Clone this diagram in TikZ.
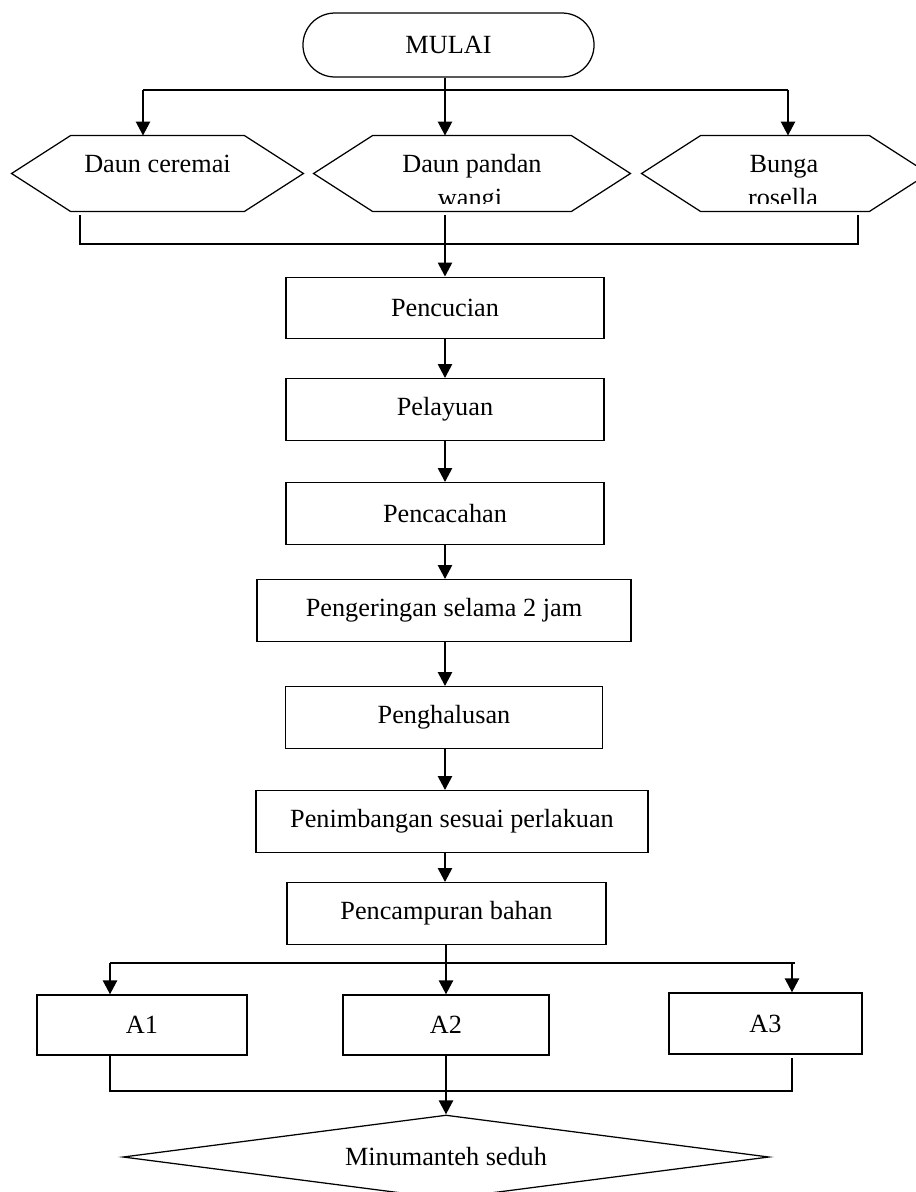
\documentclass[tikz,border=0pt]{standalone}
\usepackage{fontspec}
\setmainfont{Liberation Serif}
\usetikzlibrary{shapes.geometric, arrows.meta, positioning, calc}

\begin{document}
\begin{tikzpicture}[x=0.48pt, y=-0.48pt, font=\fontsize{12.6}{15}\selectfont,
  box/.style={draw,line width=0.6pt,minimum height=29.6pt,inner sep=0pt},
  hexa/.style={minimum height=36pt,inner sep=0pt},
  hexline/.style={draw,line width=0.6pt},
  line/.style={line width=1.2pt},
  arrow/.style={line,-{Triangle[width=6.7pt,length=6.7pt]}}]
  \useasboundingbox (0,0) rectangle (915,1192);
  % mulai
  \node[box,rounded corners=15.3pt,minimum width=139.7pt,minimum height=30.7pt] (mulai) at (448.5,45) {MULAI};
  % bahan
  \node[hexa,minimum width=139.7pt] (cer) at (157.5,173.5) {};
  \node[hexa,minimum width=151.7pt] (pan) at (472,173.5) {};
  \node[hexa,minimum width=137.3pt] (ros) at (785,173.5) {};
  \foreach \h in {cer,pan,ros}
    \draw[hexline] (\h.west) -- ([xshift=28.3pt]\h.north west) -- ([xshift=-28.3pt]\h.north east)
      -- (\h.east) -- ([xshift=-28.3pt]\h.south east) -- ([xshift=28.3pt]\h.south west) -- cycle;
  \node[anchor=base] (cer-txt) at (157.5,172) {Daun ceremai};
  \node[anchor=base] (pan-txt) at (472,172) {Daun pandan};
  \node[anchor=base] (ros-txt) at (784,172) {Bunga};
  \begin{scope}
    \clip (300,140) rectangle (915,203);
    \node[anchor=base] (pan-txt2) at (470,206) {wangi};
    \node[anchor=base] (ros-txt2) at (783,206) {rosella};
  \end{scope}
  \coordinate (split) at (445,90);
  \coordinate (cer-in) at (143,90);
  \coordinate (ros-in) at (788,90);
  \draw[line] (cer-in) -- (ros-in);
  \draw[arrow] (mulai.south -| split) -- (split |- pan.north);
  \draw[arrow] (cer-in) -- (cer-in |- cer.north);
  \draw[arrow] (ros-in) -- (ros-in |- ros.north);
  % proses
  \node[box,minimum width=152.6pt] (penc) at (445,308) {Pencucian};
  \node[box,minimum width=152.6pt] (pel) at (445,409.5) {Pelayuan};
  \node[box,minimum width=152.6pt] (cac) at (445,513.5) {Pencacahan};
  \node[box,minimum width=179.5pt] (ker) at (444,610.5) {Pengeringan selama 2 jam};
  \node[box,minimum width=152.2pt] (hal) at (444,717.5) {Penghalusan};
  \node[box,minimum width=188.2pt] (tim) at (452,821.5) {Penimbangan sesuai perlakuan};
  \node[box,minimum width=153.1pt] (cam) at (446.5,913.5) {Pencampuran bahan};
  \coordinate (cer-out) at (80,215);
  \coordinate (ros-out) at (858,215);
  \coordinate (join) at (445,244);
  \draw[line] (cer-out) |- (ros-out |- join) -- (ros-out);
  \draw[arrow] (join |- cer-out) -- (join |- penc.north);
  \draw[arrow] (penc.south -| join) -- (pel.north -| join);
  \draw[arrow] (pel.south -| join) -- (cac.north -| join);
  \draw[arrow] (cac.south -| join) -- (ker.north -| join);
  \draw[arrow] (ker.south -| join) -- (hal.north -| join);
  \draw[arrow] (hal.south -| join) -- (tim.north -| join);
  \draw[arrow] (tim.south -| join) -- (cam.north -| join);
  % perlakuan
  \node[box,minimum width=100.8pt,minimum height=28.8pt] (a1) at (142,1025) {A1};
  \node[box,minimum width=98.9pt,minimum height=28.8pt] (a2) at (446,1025) {A2};
  \node[box,minimum width=92.6pt,minimum height=29.3pt] (a3) at (765.5,1023.5) {A3};
  \coordinate (fork) at (446,963);
  \coordinate (a1-in) at (110,963);
  \coordinate (a3-in) at (792,963);
  \draw[line] (a1-in) -- ([xshift=1.5pt]a3-in);
  \draw[arrow] (cam.south -| fork) -- (a2.north -| fork);
  \draw[arrow] (a1-in) -- (a1-in |- a1.north);
  \draw[arrow] (a3-in) -- (a3-in |- a3.north);
  % hasil
  \node[draw,diamond,aspect=7.7,line width=0.6pt,minimum width=310.1pt,minimum height=40.3pt,inner sep=0pt] (akhir) at (446,1157) {Minumanteh seduh};
  \coordinate (merge) at (446,1091);
  \coordinate (a3-out) at (792,1058);
  \draw[line] (a1-in |- a1.south) |- (a3-out |- merge) -- (a3-out);
  \draw[arrow] (a2.south) -- (akhir.north);
\end{tikzpicture}
\end{document}
